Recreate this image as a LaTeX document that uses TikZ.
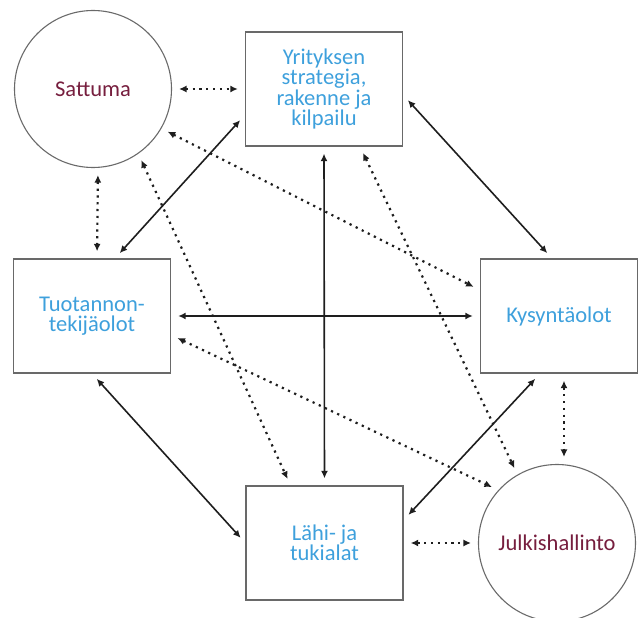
\documentclass[tikz,border=0pt]{standalone}
\usepackage{fontspec}
\setmainfont{Carlito}
\usepackage{xcolor}
\usepackage{tikz}
\usetikzlibrary{arrows.meta,positioning,calc}
\definecolor{factorblue}{RGB}{62,160,220}
\definecolor{chancered}{RGB}{118,30,62}
\definecolor{framegray}{RGB}{105,105,105}
\definecolor{linkgray}{RGB}{30,30,30}
\tikzset{
  factorbox/.style={rectangle, draw=framegray, line width=1.3pt, minimum width=157pt, minimum height=114pt, align=center, text=factorblue},
  outerball/.style={circle, draw=framegray, line width=1.1pt, minimum size=157pt, inner sep=0pt, text=chancered},
  strong/.style={<->, draw=linkgray, line width=1.6pt, shorten <=7pt, shorten >=7pt},
  weak/.style={<->, draw=linkgray, line width=2.2pt, dash pattern=on 2.2pt off 4.6pt, shorten <=7pt, shorten >=7pt}
}
\begin{document}
\begin{tikzpicture}[x=1pt, y=-1pt, font=\fontsize{22.5}{20.5}\selectfont, >={Latex[length=7.5pt,width=7pt]}]
        \useasboundingbox (0,0) rectangle (638,618);

        \node[outerball] (sattuma) at (93,89) {Sattuma};
        \node[factorbox] (strategia) at (324,89) {Yrityksen\\strategia,\\rakenne ja\\kilpailu};
        \node[factorbox] (tuotanto) at (92,316) {Tuotannon-\\tekijäolot};
        \node[factorbox] (kysynta) at (559,316) {Kysyntäolot};
        \node[factorbox] (lahi) at (324.5,543) {Lähi- ja\\tukialat};
        \node[outerball] (julkis) at (557,543) {Julkishallinto};

        % Solid links between the four factors
        \draw[strong] ([xshift=23pt]tuotanto.north) -- ([yshift=-26pt]strategia.west);
        \draw[strong] ([yshift=-6pt]strategia.east) -- ([xshift=-7pt]kysynta.north);
        \draw[strong] (strategia.south) -- (lahi.north);
        \draw[strong] (tuotanto.east) -- (kysynta.west);
        \draw[strong] (tuotanto.south) -- (lahi.west);
        \draw[strong] ([xshift=-19pt]kysynta.south) -- ([yshift=23pt]lahi.east);

        % Dotted links to chance and government
        \draw[weak] (sattuma.east) -- (strategia.west);
        \draw[weak] ([xshift=5pt]sattuma.south) -- ([xshift=5pt]tuotanto.north);
        \draw[weak] (sattuma.-30) -- ([yshift=26pt]kysynta.west);
        \draw[weak] (sattuma.-55) -- ([xshift=-34pt]lahi.north);
        \draw[weak] ([xshift=36pt]strategia.south) -- (julkis.120);
        \draw[weak] ([yshift=-19pt]tuotanto.east) -- (julkis.138);
        \draw[weak] ([xshift=5pt]kysynta.south) -- ([xshift=7pt]julkis.north);
        \draw[weak] (lahi.east) -- (julkis.west);
      \end{tikzpicture}
\end{document}
